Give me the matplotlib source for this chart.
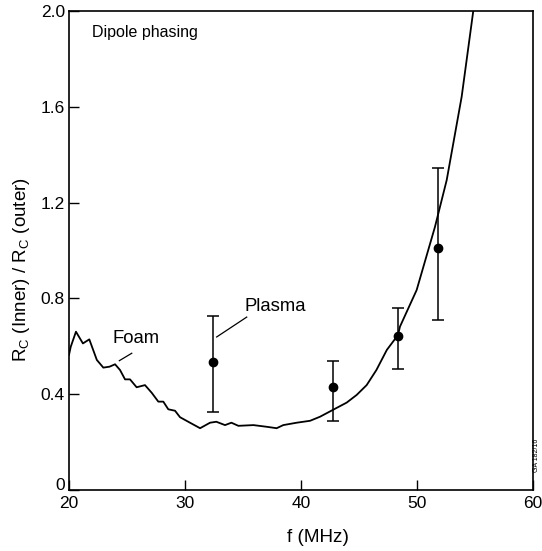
import matplotlib.pyplot as plt
import matplotlib.transforms as mtransforms
import numpy as np

plt.rcParams['font.family'] = ['Liberation Sans', 'DejaVu Sans']

# foam curve
foam_f = [20.0, 20.15, 20.6, 21.2, 21.75, 22.4, 22.96, 23.5, 23.97, 24.4, 24.83, 25.26,
          25.83, 26.55, 27.13, 27.7, 28.13, 28.56, 29.14, 29.57, 30.43, 31.3, 32.16,
          32.7, 33.45, 34.0, 34.6, 35.9, 37.04, 37.9, 38.47, 39.63, 40.78, 41.64,
          42.73, 43.94, 44.8, 45.66, 46.5, 47.4, 48.36, 48.53, 49.97, 51.55, 52.56,
          53.85, 54.85]
foam_r = [0.564, 0.598, 0.661, 0.612, 0.629, 0.543, 0.511, 0.515, 0.525, 0.501, 0.462,
          0.462, 0.429, 0.438, 0.406, 0.369, 0.369, 0.337, 0.331, 0.304, 0.281, 0.258,
          0.281, 0.285, 0.271, 0.281, 0.268, 0.271, 0.264, 0.258, 0.271, 0.281, 0.289,
          0.306, 0.334, 0.365, 0.397, 0.438, 0.501, 0.585, 0.647, 0.682, 0.835, 1.099,
          1.294, 1.642, 2.0]

# plasma points with error bars
plasma_f = [32.4, 42.73, 48.36, 51.84]
plasma_r = [0.533, 0.431, 0.644, 1.009]
plasma_lo = [0.327, 0.289, 0.504, 0.71]
plasma_hi = [0.727, 0.539, 0.76, 1.343]

xticks = [20, 30, 40, 50, 60]
yticks = [0, 0.4, 0.8, 1.2, 1.6, 2.0]
ylabels = ["0", "0.4", "0.8", "1.2", "1.6", "2.0"]

fig = plt.figure(figsize=(5.42, 5.51), dpi=100)
ax = fig.add_axes([0.1273, 0.1107, 0.8561, 0.8693])

ax.plot(foam_f, foam_r, color='black', lw=1.3)

err = [np.array(plasma_r) - np.array(plasma_lo), np.array(plasma_hi) - np.array(plasma_r)]
ax.errorbar(plasma_f, plasma_r, yerr=err, fmt='o', color='black', ms=6,
            elinewidth=1.1, capsize=4, capthick=1.1)

ax.set_xlim(20, 60)
ax.set_ylim(0, 2.0)
ax.set_xticks(xticks)
ax.set_yticks(yticks)
ax.set_yticklabels(ylabels)
ax.tick_params(direction='in', length=7, width=1, labelsize=12.5, pad=4)
ax.tick_params(axis='y', pad=3)
for s in ax.spines.values():
    s.set_linewidth(1.2)

# lift the "0" a little so it clears the "20" below it
zero = ax.get_yticklabels()[0]
zero.set_transform(zero.get_transform() +
                   mtransforms.ScaledTranslation(0, 4 / 72, fig.dpi_scale_trans))

ax.text(21.95, 1.91, "Dipole phasing", fontsize=11.5, va='center')
ax.text(35.15, 0.768, "Plasma", fontsize=13.3, va='center')
ax.plot([32.73, 35.32], [0.639, 0.722], color='black', lw=0.9)
ax.text(23.75, 0.632, "Foam", fontsize=13.3, va='center')
ax.plot([24.34, 25.41], [0.54, 0.571], color='black', lw=0.9)

fig.text(318 / 542, 1 - 538 / 551, "f (MHz)", fontsize=13.6, ha='center', va='center')
fig.text(22 / 542, 1 - 270 / 551, r"R$_\mathregular{C}$ (Inner) / R$_\mathregular{C}$ (outer)",
         fontsize=13.5, rotation=90, ha='center', va='center')
fig.text(537 / 542, 1 - 455 / 551, "GA 182/16", fontsize=5, rotation=90,
         ha='center', va='center')

fig.savefig("out.png", dpi=100)
